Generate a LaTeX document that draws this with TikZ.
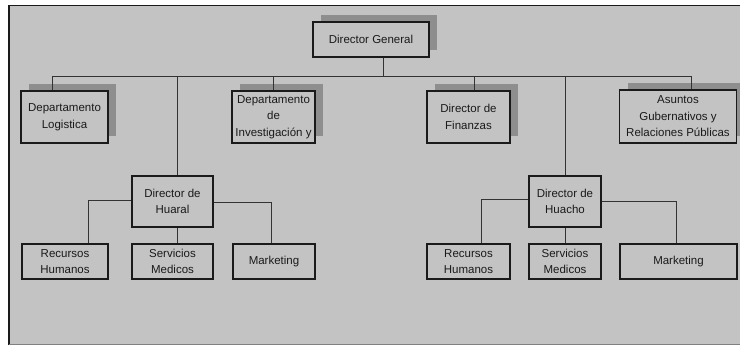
\documentclass[tikz,border=0pt]{standalone}
\usepackage{fontspec}
\setmainfont{Liberation Sans}
\usetikzlibrary{shadows}
\definecolor{bgc}{HTML}{C3C3C3}
\definecolor{shc}{HTML}{8E8E8E}
\definecolor{inkc}{HTML}{1A1A1A}
\definecolor{linec}{HTML}{333333}
\tikzset{
  orgbox/.style={draw=inkc, line width=1.7pt, fill=bgc, align=center, inner sep=0pt,
    text=inkc, font=\fontsize{11.5}{16.5}\selectfont},
  shadowed/.style={drop shadow={shadow xshift=8pt, shadow yshift=7pt, fill=shc, opacity=1}},
  conn/.style={draw=linec, line width=0.9pt}
}
\begin{document}
\begin{tikzpicture}[x=1pt, y=-1pt]
\fill[white] (0,0) rectangle (740,345);
\useasboundingbox (0,0) rectangle (740,345);
\fill[bgc] (9,5.5) rectangle (740,345);
\draw[line width=1.6pt, inkc] (9,345) -- (9,5.5) -- (740,5.5);
\draw[line width=0.8pt, gray] (9,344) -- (740,344);

% top level
\node[orgbox, shadowed, minimum width=116pt, minimum height=35pt] (dg) at (371,39.5) {Director General};

% second level
\node[orgbox, shadowed, minimum width=87pt, minimum height=52pt] (log) at (64.5,117) {Departamento\\Logistica};
\node[orgbox, shadowed, minimum width=83pt, minimum height=52pt] (inv) at (273.5,117) {Departamento\\de\\Investigación y};
\node[orgbox, shadowed, minimum width=83pt, minimum height=52pt] (fin) at (468.5,117) {Director de\\Finanzas};
\node[orgbox, shadowed, minimum width=117pt, minimum height=53pt] (asu) at (678,116.5) {Asuntos\\Gubernativos y\\Relaciones Públicas};

% directors
\node[orgbox, minimum width=81pt, minimum height=51pt] (hual) at (172.5,201.5) {Director de\\Huaral};
\node[orgbox, minimum width=72pt, minimum height=51pt] (huac) at (565,201.5) {Director de\\Huacho};

% children
\node[orgbox, minimum width=86pt, minimum height=35pt] (rh1) at (65,261.5) {Recursos\\Humanos};
\node[orgbox, minimum width=81pt, minimum height=35pt] (sm1) at (172.5,261.5) {Servicios\\Medicos};
\node[orgbox, minimum width=82pt, minimum height=35pt] (mk1) at (274,261.5) {Marketing};
\node[orgbox, minimum width=83pt, minimum height=35pt] (rh2) at (468.5,261.5) {Recursos\\Humanos};
\node[orgbox, minimum width=72pt, minimum height=35pt] (sm2) at (565,261.5) {Servicios\\Medicos};
\node[orgbox, minimum width=117pt, minimum height=35pt] (mk2) at (678.5,261.5) {Marketing};

% bus coordinates
\coordinate (b0) at (383,76);
\coordinate (bL) at (52,76);
\coordinate (bR) at (691,76);
\coordinate (bF) at (474,76);
\coordinate (bH) at (177,76);
\coordinate (bC) at (565,76);
\coordinate (hl) at (88,200);
\coordinate (hr) at (271,202);
\coordinate (cl) at (481,199);
\coordinate (cr) at (676,201);

\draw[conn] (dg.south -| b0) -- (b0);
\draw[conn] (bL) -- (bR);
\draw[conn] (bL) -- (bL |- log.north);
\draw[conn] (inv.north |- bL) -- (inv.north);
\draw[conn] (bF) -- (bF |- fin.north);
\draw[conn] (bR) -- (bR |- asu.north);
\draw[conn] (bH) -- (bH |- hual.north);
\draw[conn] (bH |- hual.south) -- (bH |- sm1.north);
\draw[conn] (hl -| hual.west) -- (hl) -- (hl |- rh1.north);
\draw[conn] (hr -| hual.east) -- (hr) -- (hr |- mk1.north);
\draw[conn] (bC) -- (huac.north);
\draw[conn] (huac.south) -- (sm2.north);
\draw[conn] (cl -| huac.west) -- (cl) -- (cl |- rh2.north);
\draw[conn] (cr -| huac.east) -- (cr) -- (cr |- mk2.north);
\end{tikzpicture}
\end{document}
